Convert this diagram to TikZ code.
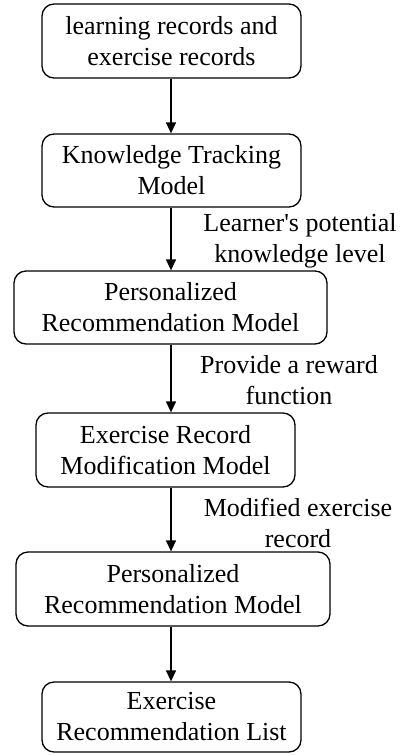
\documentclass[tikz,border=0pt]{standalone}
\usepackage{fontspec}
\setmainfont{Liberation Serif}
\usetikzlibrary{arrows.meta}
\begin{document}
\begin{tikzpicture}[x=1pt,y=1pt,
  stepbox/.style={draw, line width=1.3pt, rounded corners=12pt, align=center,
    inner sep=0pt, font=\fontsize{26}{31}\selectfont},
  flow/.style={line width=1.3pt, -{Triangle[width=10pt,length=11pt]}},
  note/.style={align=center, inner sep=0pt, font=\fontsize{26}{31}\selectfont}]
\useasboundingbox (0,0) rectangle (401,-755);
% process boxes
\node[stepbox, minimum width=259pt, minimum height=74pt] (b1) at (171.5,-41)
  {learning records and\\exercise records};
\node[stepbox, minimum width=259pt, minimum height=73pt] (b2) at (171.5,-170.5)
  {Knowledge Tracking\\Model};
\node[stepbox, minimum width=313pt, minimum height=73pt] (b3) at (170.5,-307.5)
  {Personalized\\Recommendation Model};
\node[stepbox, minimum width=259pt, minimum height=74pt] (b4) at (165.5,-450)
  {Exercise Record\\Modification Model};
\node[stepbox, minimum width=314pt, minimum height=74pt] (b5) at (173,-589)
  {Personalized\\Recommendation Model};
\node[stepbox, minimum width=259pt, minimum height=70pt] (b6) at (171.5,-717)
  {Exercise\\Recommendation List};
% connectors, all on the same vertical line
\coordinate (ax) at (171,0);
\draw[flow] (b1.south -| ax) -- (b2.north -| ax);
\draw[flow] (b2.south -| ax) -- (b3.north -| ax);
\draw[flow] (b3.south -| ax) -- (b4.north -| ax);
\draw[flow] (b4.south -| ax) -- (b5.north -| ax);
\draw[flow] (b5.south -| ax) -- (b6.north -| ax);
% connector labels
\node[note] (l1) at (300,-241) {Learner\textquotesingle s potential\\knowledge level};
\node[note] (l2) at (289,-380) {Provide a reward\\function};
\node[note] (l3) at (298,-523) {Modified exercise\\record};
\end{tikzpicture}
\end{document}
